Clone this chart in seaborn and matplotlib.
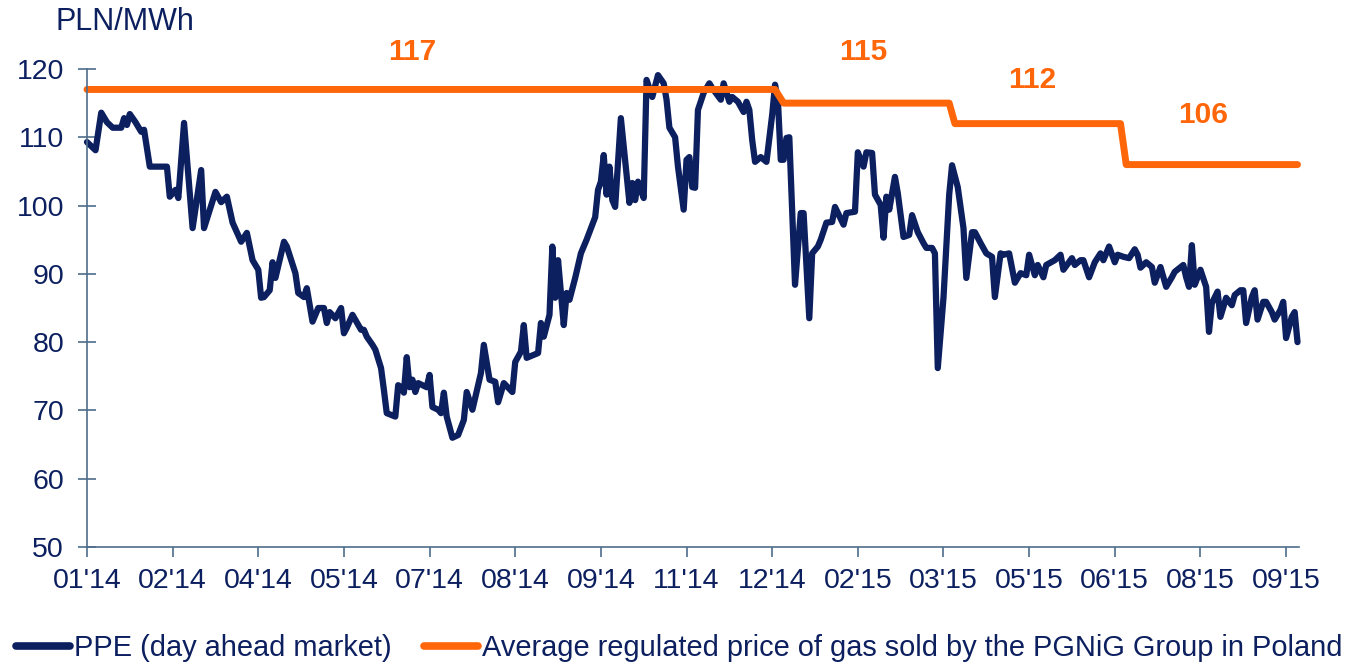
import matplotlib
matplotlib.use('Agg')
import matplotlib.pyplot as plt
import pandas as pd
import seaborn as sns

# PPE day-ahead price, PLN/MWh, indexed by trading day (0 = start of 01'14)
ppe_day = [0, 3, 5, 7, 9, 12, 13, 14, 15, 17, 19, 20, 22, 28, 29, 31, 32, 34, 37, 40,
           41, 45, 47, 49, 51, 54, 56, 58, 60, 61, 62, 64, 65, 66, 69, 70, 73, 74, 76, 77,
           79, 81, 83, 84, 85, 87, 89, 90, 91, 93, 96, 97, 98, 100, 101, 103, 104, 105, 108, 109,
           110, 111, 112, 113, 114, 115, 116, 119, 120, 121, 123, 124, 125, 126, 128, 130, 132, 133, 135, 138,
           139, 141, 143, 144, 146, 149, 150, 152, 153, 154, 158, 159, 160, 162, 163, 164, 165, 167, 168, 169,
           171, 173, 175, 177, 178, 179, 180, 181, 182, 183, 184, 185, 187, 190, 191, 192, 193, 195, 196, 198,
           200, 202, 203, 204, 206, 207, 209, 210, 211, 212, 213, 214, 216, 218, 219, 222, 223, 225, 226, 228,
           230, 231, 232, 233, 234, 236, 238, 240, 241, 242, 243, 244, 245, 246, 248, 250, 251, 253, 254, 256,
           257, 259, 261, 262, 265, 266, 269, 270, 272, 273, 275, 276, 278, 279, 280, 281, 283, 284, 286, 288,
           289, 291, 293, 294, 296, 297, 298, 300, 302, 303, 305, 307, 308, 310, 311, 313, 315, 317, 318, 320,
           321, 323, 325, 327, 329, 330, 332, 333, 335, 336, 339, 341, 342, 345, 346, 348, 349, 351, 353, 355,
           356, 358, 360, 361, 363, 365, 367, 368, 369, 371, 373, 374, 376, 378, 380, 381, 384, 385, 386, 387,
           388, 390, 392, 393, 394, 396, 397, 399, 401, 402, 404, 405, 406, 408, 409, 410, 412, 413, 415, 416,
           418, 419, 420, 422, 423, 424]
ppe_value = [109.3, 108.1, 113.6, 112.2, 111.4, 111.4, 112.8, 111.8, 113.4, 112.2, 110.8, 111.1, 105.7, 105.7, 101.3, 102.3, 101.1, 112.1, 96.7, 105.2,
             96.7, 102.0, 100.5, 101.3, 97.5, 94.7, 96.0, 92.0, 90.6, 86.5, 86.6, 87.6, 91.7, 89.4, 94.7, 94.0, 90.1, 87.2, 86.6, 87.9,
             83.0, 85.0, 85.0, 82.8, 84.4, 83.5, 85.0, 81.3, 82.1, 84.0, 81.8, 81.8, 80.8, 79.6, 78.9, 76.2, 73.0, 69.6, 69.1, 73.7,
             73.4, 72.6, 77.8, 73.4, 74.5, 72.7, 74.0, 73.4, 75.2, 70.5, 70.1, 69.6, 72.6, 69.1, 66.0, 66.4, 68.6, 72.7, 70.1, 75.5,
             79.6, 74.5, 74.2, 71.2, 74.0, 72.7, 77.1, 78.6, 82.5, 77.7, 78.4, 82.8, 80.8, 84.0, 94.0, 86.5, 92.0, 82.5, 87.2, 86.2,
             89.4, 93.0, 95.0, 97.2, 98.3, 102.3, 103.5, 107.4, 101.6, 105.7, 100.8, 99.8, 112.8, 100.4, 103.3, 100.8, 103.5, 101.1, 118.4, 115.9,
             119.1, 117.9, 115.5, 111.4, 110.0, 105.7, 99.4, 106.7, 107.1, 102.7, 102.6, 114.0, 116.5, 117.9, 117.2, 115.5, 117.9, 115.2, 115.9, 115.2,
             113.7, 115.2, 114.0, 109.6, 106.4, 107.1, 106.4, 113.3, 117.7, 115.5, 106.7, 106.7, 109.9, 110.0, 88.4, 98.9, 98.9, 83.5, 93.0, 94.0,
             95.0, 97.5, 97.6, 99.8, 97.2, 98.9, 99.1, 107.8, 105.7, 107.8, 107.7, 101.6, 100.1, 95.3, 101.3, 99.4, 104.2, 101.8, 95.4, 95.7,
             98.6, 96.1, 94.5, 93.8, 93.8, 93.0, 76.2, 86.5, 101.6, 105.9, 102.7, 96.7, 89.4, 96.1, 96.1, 94.5, 93.0, 92.5, 86.6, 93.0,
             92.8, 93.0, 88.7, 90.1, 89.8, 92.8, 89.8, 91.3, 89.5, 91.3, 92.0, 92.8, 90.6, 92.3, 91.3, 92.0, 92.0, 89.5, 91.7, 93.0,
             92.0, 94.0, 91.7, 92.8, 92.5, 92.3, 93.6, 92.8, 90.9, 91.7, 91.0, 88.7, 91.0, 88.1, 89.5, 90.3, 91.3, 89.5, 88.1, 94.2,
             88.4, 90.6, 88.1, 81.5, 85.7, 87.4, 83.7, 86.5, 85.4, 86.9, 87.6, 87.6, 82.8, 86.6, 87.6, 83.3, 85.9, 85.9, 84.4, 83.3,
             84.7, 85.9, 80.6, 83.7, 84.4, 80.0]

# average regulated gas price (PGNiG), steps
gas_day = [0, 241, 244, 302, 304, 362, 364, 424]
gas_value = [117, 117, 115, 115, 112, 112, 106, 106]

gas_labels = ['117', '115', '112', '106']
gas_label_day = [114, 272, 331, 391]
gas_label_y = [122.5, 122.5, 118.4, 113.3]

tick_days = [0, 30, 60, 90, 120, 150, 180, 210, 240, 270, 300, 330, 360, 390, 420]
tick_labels = ["01'14", "02'14", "04'14", "05'14", "07'14", "08'14", "09'14", "11'14",
               "12'14", "02'15", "03'15", "05'15", "06'15", "08'15", "09'15"]

navy = '#0c1f5f'
orange = '#ff660a'
axis_col = '#4f6d8c'

sns.set_style('white')
plt.rcParams['font.family'] = ['Liberation Sans', 'DejaVu Sans']

df_ppe = pd.DataFrame({'day': ppe_day, 'value': ppe_value})
df_gas = pd.DataFrame({'day': gas_day, 'value': gas_value})

fig = plt.figure(figsize=(13.59, 6.62), dpi=100)
ax = fig.add_axes([0.064, 0.1737, 0.8918, 0.7221])

sns.lineplot(data=df_ppe, x='day', y='value', ax=ax, color=navy, linewidth=4.5,
             label='PPE (day ahead market)', sort=False)
sns.lineplot(data=df_gas, x='day', y='value', ax=ax, color=orange, linewidth=5,
             label='Average regulated price of gas sold by the PGNiG Group in Poland', sort=False)
for line in ax.get_lines():
    line.set_solid_capstyle('round')
    line.set_solid_joinstyle('round')
    line.set_clip_on(False)

for txt, d, y in zip(gas_labels, gas_label_day, gas_label_y):
    ax.text(d, y, txt, color=orange, fontsize=21.5, fontweight='bold',
            ha='center', va='center', clip_on=False)

ax.set_xlim(0, 424.5)
ax.set_ylim(50, 120)
ax.set_yticks(range(50, 121, 10))
ax.set_xticks(tick_days)
ax.set_xticklabels(tick_labels)
ax.set_xlabel('')
ax.set_ylabel('')

for s in ['top', 'right']:
    ax.spines[s].set_visible(False)
for s in ['left', 'bottom']:
    ax.spines[s].set_color(axis_col)
    ax.spines[s].set_linewidth(1.2)
ax.tick_params(axis='y', left=True, direction='inout', length=13, width=1.2, color=axis_col,
               labelsize=20.5, labelcolor=navy, pad=10)
ax.tick_params(axis='x', bottom=True, direction='out', length=7, width=1.2, color=axis_col,
               labelsize=20.5, labelcolor=navy, pad=8)

fig.text(55 / 1359, 1 - 22 / 662, 'PLN/MWh', color=navy, fontsize=22, va='center', ha='left')

handles, labels = ax.get_legend_handles_labels()
ax.legend_.remove()
leg = fig.legend(handles, labels, loc='center left', bbox_to_anchor=(0.012, 0.021),
                 ncol=2, frameon=False, fontsize=20.9, handlelength=1.85, handletextpad=0.15,
                 columnspacing=1.1, borderpad=0, borderaxespad=0)
for t in leg.get_texts():
    t.set_color(navy)
for h in leg.get_lines():
    h.set_linewidth(5.5)
    h.set_solid_capstyle('round')

fig.savefig('out.png', dpi=100)
